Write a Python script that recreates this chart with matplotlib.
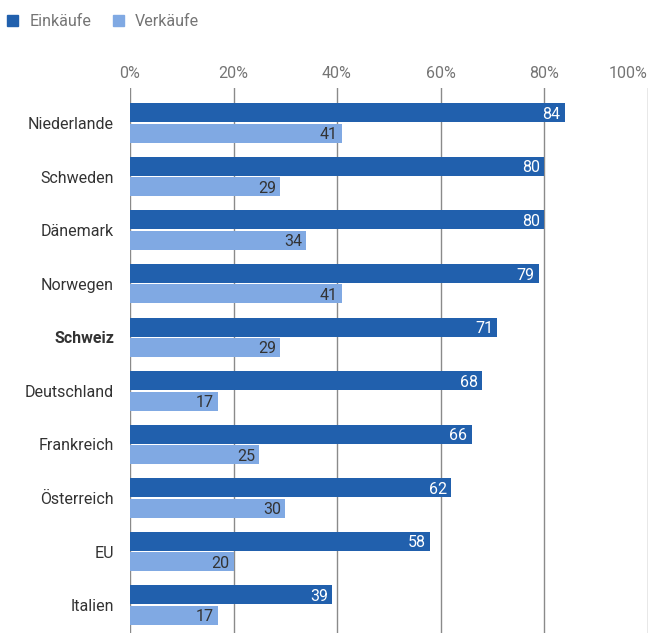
import matplotlib.pyplot as plt
from matplotlib.patches import Rectangle

plt.rcParams['font.family'] = ['Roboto', 'DejaVu Sans']

countries = ['Niederlande', 'Schweden', 'Dänemark', 'Norwegen', 'Schweiz',
             'Deutschland', 'Frankreich', 'Österreich', 'EU', 'Italien']
einkaeufe = [84, 80, 80, 79, 71, 68, 66, 62, 58, 39]
verkaeufe = [41, 29, 34, 41, 29, 17, 25, 30, 20, 17]
ticks = [0, 20, 40, 60, 80, 100]

dark = '#2160ad'
light = '#80a9e3'

fig = plt.figure(figsize=(6.49, 6.33), dpi=100)
ax = fig.add_axes([130 / 649, 0, 517.5 / 649, 1 - 88 / 633])

pos = list(range(len(countries)))
h = 0.355
off = 0.19
ax.barh([p - off for p in pos], einkaeufe, height=h, color=dark, zorder=3)
ax.barh([p + off for p in pos], verkaeufe, height=h, color=light, zorder=3)

for p, v in zip(pos, einkaeufe):
    ax.text(v - 0.8, p - off, str(v), ha='right', va='center_baseline',
            color='white', fontsize=11.5, zorder=4)
for p, v in zip(pos, verkaeufe):
    ax.text(v - 0.8, p + off, str(v), ha='right', va='center_baseline',
            color='#333333', fontsize=11.5, zorder=4)

ax.set_xlim(0, 100)
ax.set_ylim(9.52, -0.653)
ax.set_xticks(ticks)
ax.set_xticklabels([f'{t}%' for t in ticks])
ax.xaxis.tick_top()
ax.tick_params(axis='x', length=0, pad=5, labelsize=11.5, labelcolor='#757575')
ax.get_xticklabels()[-1].set_horizontalalignment('right')
ax.set_yticks(pos)
ax.set_yticklabels(countries)
ax.tick_params(axis='y', length=0, pad=11.5, labelsize=11.5, labelcolor='#333333')
for lab in ax.get_yticklabels():
    if lab.get_text() == 'Schweiz':
        lab.set_fontweight('bold')

for t in ticks:
    ax.axvline(t, color='#8a8a8a', lw=1, zorder=1)
for s in ax.spines.values():
    s.set_visible(False)

# legend
fig.patches.append(Rectangle((7 / 649, 1 - 26 / 633), 11 / 649, 11 / 633,
                             transform=fig.transFigure, color=dark))
fig.text(30 / 649, 1 - 21 / 633, 'Einkäufe', va='center', fontsize=11.5, color='#757575')
fig.patches.append(Rectangle((113 / 649, 1 - 26 / 633), 11 / 649, 11 / 633,
                             transform=fig.transFigure, color=light))
fig.text(135 / 649, 1 - 21 / 633, 'Verkäufe', va='center', fontsize=11.5, color='#757575')

fig.savefig('out.png', dpi=100)
